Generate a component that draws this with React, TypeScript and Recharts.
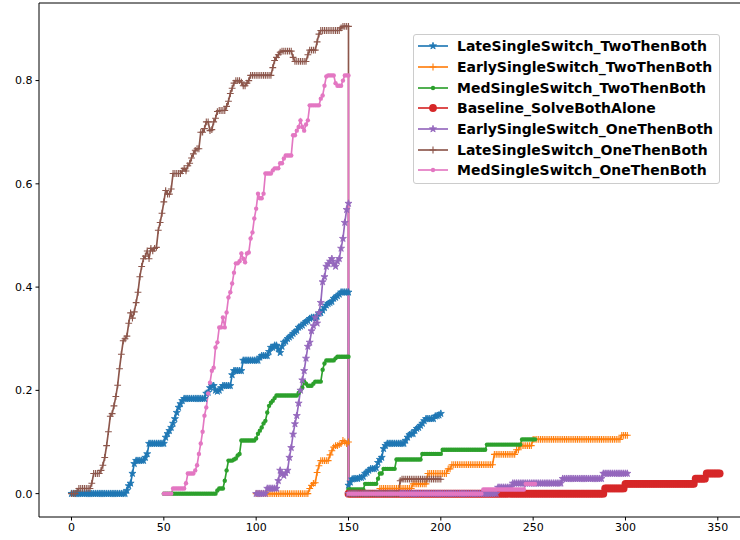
import React from "react";
import { Legend, Line, LineChart, ReferenceLine, XAxis, YAxis } from "recharts";

// x ticks / y ticks
const xTicks = [0, 50, 100, 150, 200, 250, 300, 350];
const yTicks = [0, 0.2, 0.4, 0.6, 0.8];
const xDomain = [-17.6, 369.6];
const yDomain = [-0.04525, 0.95025];

// every series: one value per step, first block then the block after the switch at step 150
const lateTwoStarts = [0, 150];
const lateTwoFirst = [
  0, 0, 0, 0, 0, 0, 0, 0, 0, 0,
  0, 0, 0, 0, 0, 0, 0, 0, 0, 0,
  0, 0, 0, 0, 0, 0, 0, 0, 0, 0,
  0.006, 0.015, 0.02, 0.039, 0.058, 0.064, 0.064, 0.064, 0.064, 0.064,
  0.07, 0.077, 0.097, 0.097, 0.097, 0.097, 0.097, 0.097, 0.097, 0.097,
  0.097, 0.109, 0.116, 0.122, 0.128, 0.136, 0.145, 0.157, 0.167, 0.174,
  0.18, 0.184, 0.184, 0.184, 0.184, 0.184, 0.184, 0.184, 0.184, 0.184,
  0.184, 0.184, 0.184, 0.194, 0.196, 0.205, 0.209, 0.209, 0.2, 0.198,
  0.2, 0.205, 0.209, 0.209, 0.209, 0.209, 0.209, 0.23, 0.238, 0.238,
  0.238, 0.238, 0.238, 0.258, 0.258, 0.258, 0.258, 0.258, 0.258, 0.258,
  0.258, 0.258, 0.264, 0.267, 0.267, 0.267, 0.267, 0.275, 0.283, 0.283,
  0.287, 0.287, 0.28, 0.273, 0.285, 0.293, 0.295, 0.3, 0.303, 0.306,
  0.31, 0.313, 0.316, 0.322, 0.324, 0.326, 0.33, 0.333, 0.335, 0.339,
  0.341, 0.341, 0.341, 0.343, 0.349, 0.35, 0.355, 0.36, 0.365, 0.368,
  0.37, 0.372, 0.378, 0.38, 0.383, 0.386, 0.39, 0.39, 0.39, 0.39,
  0.39,
];
const lateTwoSecond = [
  0.016, 0.022, 0.028, 0.029, 0.029, 0.029, 0.031, 0.031, 0.033, 0.039,
  0.041, 0.045, 0.048, 0.048, 0.048, 0.05, 0.06, 0.066, 0.07, 0.087,
  0.093, 0.097, 0.097, 0.097, 0.097, 0.097, 0.097, 0.097, 0.097, 0.097,
  0.097, 0.103, 0.109, 0.114, 0.116, 0.116, 0.122, 0.126, 0.128, 0.132,
  0.136, 0.141, 0.145, 0.145, 0.145, 0.145, 0.145, 0.15, 0.151, 0.152,
  0.155,
];

const earlyTwoStarts = [100, 150];
const earlyTwoFirst = [
  0, 0, 0, 0, 0, 0, 0, 0, 0, 0,
  0, 0, 0, 0, 0, 0, 0, 0, 0, 0,
  0, 0, 0, 0, 0, 0, 0, 0, 0, 0.01,
  0.016, 0.02, 0.021, 0.041, 0.054, 0.064, 0.064, 0.064, 0.064, 0.064,
  0.075, 0.083, 0.09, 0.093, 0.093, 0.095, 0.097, 0.103, 0.1, 0.097,
  0.1,
];
const earlyTwoSecond = [
  0, 0, 0, 0, 0, 0, 0, 0, 0, 0,
  0, 0, 0, 0, 0, 0, 0, 0.01, 0.01, 0.01,
  0.01, 0.01, 0.01, 0.01, 0.01, 0.01, 0.01, 0.01, 0.01, 0.01,
  0.01, 0.01, 0.01, 0.01, 0.01, 0.019, 0.019, 0.019, 0.019, 0.019,
  0.019, 0.019, 0.019, 0.039, 0.039, 0.039, 0.039, 0.039, 0.039, 0.039,
  0.039, 0.039, 0.039, 0.039, 0.048, 0.048, 0.056, 0.056, 0.056, 0.056,
  0.056, 0.056, 0.056, 0.056, 0.056, 0.056, 0.056, 0.056, 0.056, 0.056,
  0.056, 0.056, 0.056, 0.056, 0.056, 0.056, 0.056, 0.056, 0.056, 0.076,
  0.076, 0.076, 0.076, 0.076, 0.076, 0.076, 0.076, 0.076, 0.076, 0.076,
  0.076, 0.085, 0.085, 0.093, 0.093, 0.093, 0.093, 0.093, 0.093, 0.093,
  0.105, 0.105, 0.105, 0.105, 0.105, 0.105, 0.105, 0.105, 0.105, 0.105,
  0.105, 0.105, 0.105, 0.105, 0.105, 0.105, 0.105, 0.105, 0.105, 0.105,
  0.105, 0.105, 0.105, 0.105, 0.105, 0.105, 0.105, 0.105, 0.105, 0.105,
  0.105, 0.105, 0.105, 0.105, 0.105, 0.105, 0.105, 0.105, 0.105, 0.105,
  0.105, 0.105, 0.105, 0.105, 0.105, 0.105, 0.105, 0.105, 0.113, 0.113,
  0.113, 0.113,
];

const medTwoStarts = [50, 150];
const medTwoFirst = [
  0, 0, 0, 0, 0, 0, 0, 0, 0, 0,
  0, 0, 0, 0, 0, 0, 0, 0, 0, 0,
  0, 0, 0, 0, 0, 0, 0, 0, 0, 0.006,
  0.01, 0.01, 0.01, 0.025, 0.045, 0.064, 0.064, 0.064, 0.066, 0.068,
  0.074, 0.077, 0.103, 0.103, 0.103, 0.103, 0.103, 0.103, 0.103, 0.103,
  0.107, 0.116, 0.122, 0.128, 0.136, 0.141, 0.157, 0.17, 0.176, 0.18,
  0.185, 0.19, 0.19, 0.19, 0.19, 0.19, 0.19, 0.19, 0.19, 0.19,
  0.19, 0.19, 0.19, 0.195, 0.2, 0.205, 0.217, 0.213, 0.209, 0.209,
  0.209, 0.213, 0.217, 0.217, 0.217, 0.217, 0.24, 0.252, 0.258, 0.258,
  0.258, 0.258, 0.258, 0.262, 0.265, 0.265, 0.265, 0.265, 0.265, 0.265,
  0.265,
];
const medTwoSecond = [
  0.008, 0.008, 0.008, 0.008, 0.008, 0.008, 0.008, 0.008, 0.008, 0.019,
  0.019, 0.019, 0.019, 0.019, 0.019, 0.019, 0.029, 0.039, 0.039, 0.048,
  0.048, 0.048, 0.048, 0.048, 0.048, 0.048, 0.066, 0.066, 0.066, 0.066,
  0.066, 0.066, 0.066, 0.066, 0.066, 0.066, 0.066, 0.066, 0.066, 0.066,
  0.077, 0.077, 0.077, 0.077, 0.077, 0.077, 0.077, 0.077, 0.077, 0.077,
  0.077, 0.085, 0.085, 0.085, 0.085, 0.085, 0.085, 0.085, 0.085, 0.085,
  0.085, 0.085, 0.085, 0.085, 0.085, 0.085, 0.085, 0.085, 0.085, 0.085,
  0.085, 0.085, 0.085, 0.085, 0.085, 0.095, 0.095, 0.095, 0.095, 0.095,
  0.095, 0.095, 0.095, 0.095, 0.095, 0.095, 0.095, 0.095, 0.095, 0.095,
  0.095, 0.095, 0.095, 0.095, 0.105, 0.105, 0.105, 0.105, 0.105, 0.105,
  0.105, 0.105,
];

const baselineStarts = [150];
const baselineValues = [
  0, 0, 0, 0, 0, 0, 0, 0, 0, 0,
  0, 0, 0, 0, 0, 0, 0, 0, 0, 0,
  0, 0, 0, 0, 0, 0, 0, 0, 0, 0,
  0, 0, 0, 0, 0, 0, 0, 0, 0, 0,
  0, 0, 0, 0, 0, 0, 0, 0, 0, 0,
  0, 0, 0, 0, 0, 0, 0, 0, 0, 0,
  0, 0, 0, 0, 0, 0, 0, 0, 0, 0,
  0, 0, 0, 0, 0, 0, 0, 0, 0, 0,
  0, 0, 0, 0, 0, 0, 0, 0, 0, 0,
  0, 0, 0, 0, 0, 0, 0, 0, 0, 0,
  0, 0, 0, 0, 0, 0, 0, 0, 0, 0,
  0, 0, 0, 0, 0, 0, 0, 0, 0, 0,
  0, 0, 0, 0, 0, 0, 0, 0, 0, 0,
  0, 0, 0, 0, 0, 0, 0, 0, 0, 0.01,
  0.01, 0.01, 0.01, 0.01, 0.01, 0.01, 0.01, 0.01, 0.01, 0.01,
  0.019, 0.019, 0.019, 0.019, 0.019, 0.019, 0.019, 0.019, 0.019, 0.019,
  0.019, 0.019, 0.019, 0.019, 0.019, 0.019, 0.019, 0.019, 0.019, 0.019,
  0.019, 0.019, 0.019, 0.019, 0.019, 0.019, 0.019, 0.019, 0.019, 0.019,
  0.019, 0.019, 0.019, 0.019, 0.019, 0.019, 0.019, 0.019, 0.029, 0.029,
  0.029, 0.029, 0.029, 0.029, 0.039, 0.039, 0.039, 0.039, 0.039, 0.039,
  0.039, 0.039,
];

const earlyOneStarts = [100, 150];
const earlyOneFirst = [
  0, 0, 0, 0, 0, 0, 0.01, 0.01, 0.01, 0.01,
  0.01, 0.01, 0.025, 0.045, 0.038, 0.035, 0.04, 0.045, 0.07, 0.089,
  0.115, 0.135, 0.151, 0.175, 0.2, 0.22, 0.238, 0.262, 0.285, 0.293,
  0.315, 0.325, 0.341, 0.33, 0.35, 0.37, 0.41, 0.42, 0.44, 0.445,
  0.45, 0.455, 0.445, 0.44, 0.45, 0.455, 0.475, 0.494, 0.525, 0.55,
  0.562,
];
const earlyOneSecond = [
  0, 0, 0, 0, 0, 0, 0, 0, 0, 0,
  0, 0, 0, 0, 0, 0, 0, 0, 0, 0,
  0, 0, 0, 0, 0, 0, 0, 0, 0, 0,
  0, 0, 0, 0, 0, 0, 0, 0, 0, 0,
  0, 0, 0, 0, 0, 0, 0, 0, 0, 0,
  0, 0, 0, 0, 0, 0, 0, 0, 0, 0,
  0, 0, 0, 0, 0, 0, 0, 0, 0, 0,
  0, 0, 0, 0, 0, 0, 0, 0, 0, 0,
  0, 0.012, 0.012, 0.012, 0.012, 0.012, 0.012, 0.012, 0.012, 0.02,
  0.02, 0.02, 0.02, 0.02, 0.02, 0.02, 0.02, 0.02, 0.02, 0.02,
  0.02, 0.02, 0.02, 0.02, 0.02, 0.02, 0.02, 0.02, 0.02, 0.02,
  0.02, 0.02, 0.02, 0.02, 0.02, 0.02, 0.029, 0.029, 0.029, 0.029,
  0.029, 0.029, 0.029, 0.029, 0.029, 0.029, 0.029, 0.029, 0.029, 0.029,
  0.029, 0.029, 0.029, 0.029, 0.029, 0.029, 0.029, 0.029, 0.039, 0.039,
  0.039, 0.039, 0.039, 0.039, 0.039, 0.039, 0.039, 0.039, 0.039, 0.039,
  0.039, 0.039,
];

const lateOneStarts = [0, 150];
const lateOneFirst = [
  0, 0, 0, 0.005, 0.01, 0.01, 0.01, 0.01, 0.01, 0.01,
  0.01, 0.02, 0.039, 0.039, 0.039, 0.039, 0.045, 0.055, 0.07, 0.093,
  0.12, 0.15, 0.155, 0.17, 0.188, 0.21, 0.242, 0.27, 0.296, 0.3,
  0.305, 0.33, 0.35, 0.34, 0.352, 0.37, 0.39, 0.42, 0.44, 0.455,
  0.46, 0.47, 0.455, 0.475, 0.47, 0.475, 0.477, 0.51, 0.525, 0.543,
  0.565, 0.587, 0.58, 0.58, 0.59, 0.62, 0.62, 0.62, 0.62, 0.62,
  0.625, 0.63, 0.625, 0.635, 0.64, 0.65, 0.658, 0.665, 0.668, 0.668,
  0.7, 0.7, 0.707, 0.72, 0.72, 0.703, 0.705, 0.72, 0.727, 0.74,
  0.742, 0.742, 0.742, 0.742, 0.75, 0.76, 0.775, 0.785, 0.795, 0.8,
  0.8, 0.8, 0.797, 0.79, 0.79, 0.795, 0.8, 0.81, 0.81, 0.81,
  0.81, 0.81, 0.81, 0.81, 0.81, 0.81, 0.81, 0.81, 0.81, 0.825,
  0.839, 0.845, 0.85, 0.855, 0.857, 0.857, 0.857, 0.857, 0.857, 0.857,
  0.845, 0.837, 0.837, 0.837, 0.837, 0.837, 0.837, 0.837, 0.85, 0.859,
  0.859, 0.859, 0.859, 0.875, 0.89, 0.897, 0.897, 0.897, 0.897, 0.897,
  0.897, 0.897, 0.897, 0.897, 0.897, 0.897, 0.902, 0.905, 0.905, 0.905,
  0.905,
];
const lateOneSecond = [
  0, 0, 0, 0, 0, 0, 0, 0, 0, 0,
  0, 0, 0, 0, 0, 0, 0, 0, 0, 0,
  0, 0, 0, 0, 0, 0, 0, 0, 0.025, 0.028,
  0.028, 0.028, 0.028, 0.028, 0.028, 0.028, 0.028, 0.028, 0.028, 0.028,
  0.028, 0.028, 0.028, 0.028, 0.028, 0.028, 0.028, 0.028, 0.028, 0.028,
  0.028,
];

const medOneStarts = [50, 150];
const medOneFirst = [
  0, 0, 0, 0, 0, 0.01, 0.01, 0.01, 0.01, 0.01,
  0.01, 0.01, 0.02, 0.039, 0.039, 0.039, 0.039, 0.045, 0.055, 0.077,
  0.097, 0.12, 0.151, 0.167, 0.194, 0.215, 0.238, 0.244, 0.283, 0.293,
  0.322, 0.322, 0.341, 0.322, 0.351, 0.38, 0.39, 0.407, 0.428, 0.446,
  0.446, 0.45, 0.465, 0.455, 0.448, 0.465, 0.467, 0.494, 0.506, 0.533,
  0.552, 0.581, 0.572, 0.572, 0.581, 0.62, 0.62, 0.62, 0.62, 0.626,
  0.63, 0.63, 0.63, 0.64, 0.64, 0.649, 0.655, 0.655, 0.655, 0.655,
  0.694, 0.694, 0.703, 0.71, 0.723, 0.71, 0.703, 0.715, 0.723, 0.752,
  0.752, 0.752, 0.752, 0.752, 0.752, 0.765, 0.771, 0.79, 0.808, 0.81,
  0.81, 0.81, 0.81, 0.795, 0.79, 0.79, 0.79, 0.8, 0.81, 0.81,
  0.81,
];
const medOneSecond = [
  0, 0, 0, 0, 0, 0, 0, 0, 0, 0,
  0, 0, 0, 0, 0, 0, 0, 0, 0, 0,
  0, 0, 0, 0, 0, 0, 0, 0, 0, 0,
  0, 0, 0, 0, 0, 0, 0, 0, 0, 0,
  0, 0, 0, 0, 0, 0, 0, 0, 0, 0,
  0, 0, 0, 0, 0, 0, 0, 0, 0, 0,
  0, 0, 0, 0, 0, 0, 0, 0, 0, 0,
  0, 0, 0, 0.008, 0.008, 0.008, 0.008, 0.008, 0.008, 0.008,
  0.008, 0.008, 0.008, 0.008, 0.008, 0.008, 0.008, 0.008, 0.008, 0.008,
  0.008, 0.008, 0.008, 0.008, 0.008, 0.008, 0.019, 0.019, 0.019, 0.019,
  0.019, 0.019,
];

type Pt = { x: number; y: number };
const toPoints = (starts: number[], blocks: number[][]): Pt[] =>
  blocks.flatMap((block, b) => block.map((y, i) => ({ x: starts[b] + i, y })));

type MarkerKind = "star" | "plus" | "point" | "circle";

const series: { name: string; color: string; marker: MarkerKind; data: Pt[] }[] = [
  { name: "LateSingleSwitch_TwoThenBoth", color: "#1f77b4", marker: "star", data: toPoints(lateTwoStarts, [lateTwoFirst, lateTwoSecond]) },
  { name: "EarlySingleSwitch_TwoThenBoth", color: "#ff7f0e", marker: "plus", data: toPoints(earlyTwoStarts, [earlyTwoFirst, earlyTwoSecond]) },
  { name: "MedSingleSwitch_TwoThenBoth", color: "#2ca02c", marker: "point", data: toPoints(medTwoStarts, [medTwoFirst, medTwoSecond]) },
  { name: "Baseline_SolveBothAlone", color: "#d62728", marker: "circle", data: toPoints(baselineStarts, [baselineValues]) },
  { name: "EarlySingleSwitch_OneThenBoth", color: "#9467bd", marker: "star", data: toPoints(earlyOneStarts, [earlyOneFirst, earlyOneSecond]) },
  { name: "LateSingleSwitch_OneThenBoth", color: "#8c564b", marker: "plus", data: toPoints(lateOneStarts, [lateOneFirst, lateOneSecond]) },
  { name: "MedSingleSwitch_OneThenBoth", color: "#e377c2", marker: "point", data: toPoints(medOneStarts, [medOneFirst, medOneSecond]) },
];

const FONT = "'DejaVu Sans', Verdana, sans-serif";

function starPoints(cx: number, cy: number, r: number) {
  const pts: string[] = [];
  for (let i = 0; i < 10; i++) {
    const rad = i % 2 === 0 ? r : r * 0.382;
    const a = -Math.PI / 2 + (i * Math.PI) / 5;
    pts.push(`${cx + rad * Math.cos(a)},${cy + rad * Math.sin(a)}`);
  }
  return pts.join(" ");
}

function Marker({ kind, cx, cy, color }: { kind: MarkerKind; cx: number; cy: number; color: string }) {
  if (kind === "star")
    return <polygon points={starPoints(cx, cy, 3.7)} fill={color} stroke={color} strokeWidth={0.8} />;
  if (kind === "plus")
    return (
      <path
        d={`M${cx - 3.4},${cy}H${cx + 3.4}M${cx},${cy - 3.4}V${cy + 3.4}`}
        stroke={color}
        strokeWidth={1.1}
        fill="none"
      />
    );
  if (kind === "circle") return <circle cx={cx} cy={cy} r={3.9} fill={color} />;
  return <circle cx={cx} cy={cy} r={2.2} fill={color} />;
}

function LegendBox() {
  return (
    <div
      style={{
        border: "1px solid #cccccc",
        borderRadius: 3,
        background: "rgba(255,255,255,0.8)",
        padding: "1px 6px 2px 4px",
        fontFamily: FONT,
        fontWeight: "bold",
        fontSize: 14,
        color: "#000",
      }}
    >
      {series.map((s) => (
        <div key={s.name} style={{ display: "flex", alignItems: "center", height: 20.7, whiteSpace: "nowrap" }}>
          <svg width={30} height={12} style={{ marginRight: 9, overflow: "visible" }}>
            <line x1={0} y1={6} x2={30} y2={6} stroke={s.color} strokeWidth={1.65} />
            <Marker kind={s.marker} cx={15} cy={6} color={s.color} />
          </svg>
          <span>{s.name}</span>
        </div>
      ))}
    </div>
  );
}

export default function App() {
  return (
    <div style={{ position: "absolute", left: 0, top: 0, width: 740, height: 540, overflow: "hidden", background: "#fff" }}>
      <LineChart width={760} height={540} margin={{ top: 3, right: 6, bottom: 0, left: 0 }}>
        <XAxis
          type="number"
          dataKey="x"
          domain={xDomain}
          ticks={xTicks}
          allowDataOverflow
          height={23}
          tickSize={3.5}
          tickMargin={3}
          stroke="#000"
          tick={{ fill: "#000", fontSize: 11, fontFamily: FONT }}
        />
        <YAxis
          type="number"
          dataKey="y"
          domain={yDomain}
          ticks={yTicks}
          allowDataOverflow
          width={39}
          tickSize={3.5}
          tickMargin={3}
          stroke="#000"
          tick={{ fill: "#000", fontSize: 11, fontFamily: FONT }}
          tickFormatter={(v: number) => v.toFixed(1)}
        />
        <ReferenceLine y={yDomain[1]} stroke="#000" strokeWidth={1} />
        {series.map((s) => (
          <Line
            key={s.name}
            data={s.data}
            dataKey="y"
            name={s.name}
            type="linear"
            stroke={s.color}
            strokeWidth={1.65}
            isAnimationActive={false}
            activeDot={false}
            dot={(p: any) => (
              <Marker key={`${s.name}-${p.index}`} kind={s.marker} cx={p.cx} cy={p.cy} color={s.color} />
            )}
          />
        ))}
        <Legend
          layout="vertical"
          align="center"
          verticalAlign="middle"
          content={() => <LegendBox />}
          wrapperStyle={{ left: 413, top: 34, width: "auto" }}
        />
      </LineChart>
    </div>
  );
}
